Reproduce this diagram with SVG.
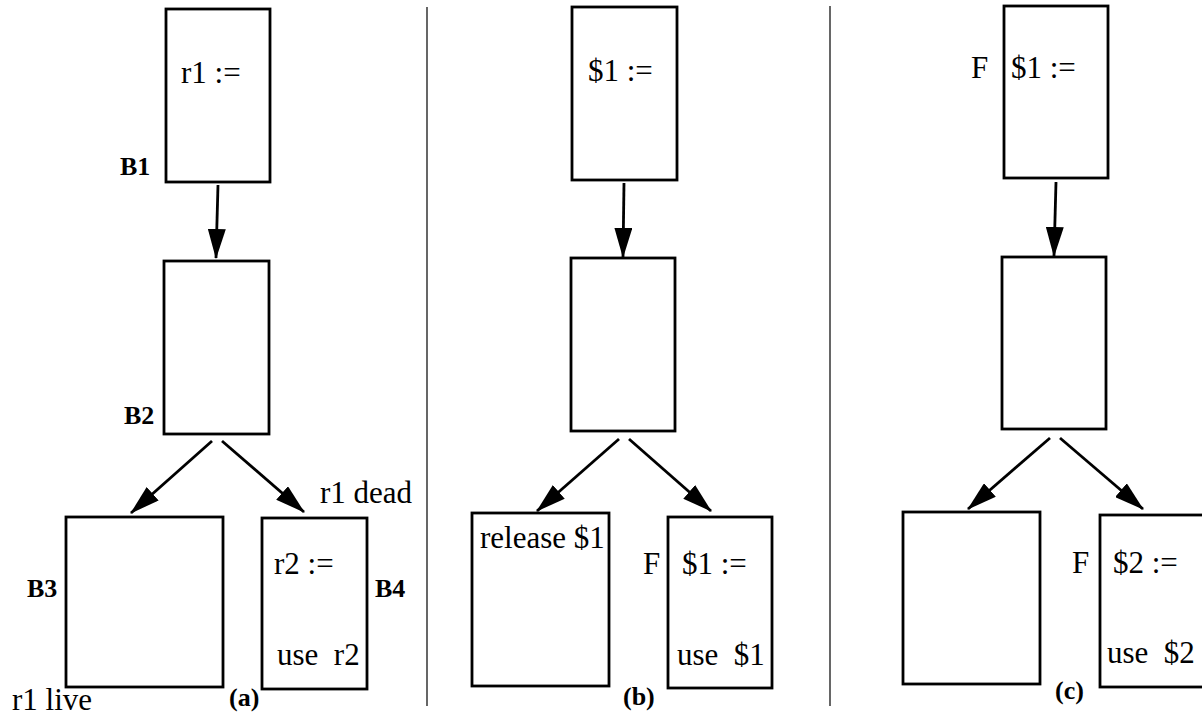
<svg xmlns="http://www.w3.org/2000/svg" width="1202" height="717" viewBox="0 0 1202 717">
<style>
.box{fill:#fff;stroke:#000;stroke-width:2.8}
.t{font-family:"Liberation Serif","Times New Roman",serif;font-size:31px;fill:#000;white-space:pre}
.b{font-family:"Liberation Serif","Times New Roman",serif;font-size:26px;font-weight:bold;fill:#000}
.e{stroke:#000;stroke-width:2.8;fill:none;marker-end:url(#ah)}
.div{stroke:#000;stroke-width:1.2}
</style>
<defs>
<marker id="ah" markerUnits="userSpaceOnUse" markerWidth="31" markerHeight="18" refX="29" refY="9" orient="auto" viewBox="0 0 31 18">
<path d="M0,0 L30,9 L0,18 z" fill="#000"/>
</marker>
</defs>
<rect width="1202" height="717" fill="#fff"/>
<g id="dividers">
<line class="div" x1="427" y1="7" x2="427" y2="706"/>
<line class="div" x1="830" y1="6" x2="830" y2="706"/>
</g>
<g id="connectors">
<line class="e" x1="218" y1="185" x2="216" y2="258"/>
<line class="e" x1="212" y1="441" x2="131" y2="513"/>
<line class="e" x1="222" y1="441" x2="304" y2="512"/>
<line class="e" x1="624" y1="183" x2="623" y2="257"/>
<line class="e" x1="619" y1="439" x2="537" y2="511"/>
<line class="e" x1="629" y1="439" x2="711" y2="511"/>
<line class="e" x1="1056" y1="182" x2="1054" y2="256"/>
<line class="e" x1="1050" y1="438" x2="968" y2="509"/>
<line class="e" x1="1060" y1="438" x2="1143" y2="509"/>
</g>
<g id="a-B1"><rect class="box" x="166" y="9" width="104" height="173"/><text class="t" x="181" y="83">r1 :=</text><text class="b" x="120" y="175">B1</text></g>
<g id="a-B2"><rect class="box" x="164" y="261" width="105" height="173"/><text class="b" x="124" y="424">B2</text></g>
<g id="a-B3"><rect class="box" x="66" y="517" width="157" height="170"/><text class="b" x="27" y="597">B3</text><text class="t" x="12" y="710">r1 live</text></g>
<g id="a-B4"><rect class="box" x="262" y="518" width="105" height="171"/><text class="t" x="274" y="574">r2 :=</text><text class="t" x="277" y="665">use  r2</text><text class="b" x="375" y="597">B4</text><text class="t" x="320" y="503">r1 dead</text></g>
<g id="a-label"><text class="b" x="229" y="706">(a)</text></g>
<g id="b-B1"><rect class="box" x="572" y="7" width="105" height="173"/><text class="t" x="588" y="81">$1 :=</text></g>
<g id="b-B2"><rect class="box" x="571" y="258" width="104" height="173"/></g>
<g id="b-B3"><rect class="box" x="472" y="513" width="137" height="173"/><text class="t" x="480" y="548">release $1</text></g>
<g id="b-B4"><rect class="box" x="668" y="517" width="104" height="171"/><text class="t" x="643" y="574">F</text><text class="t" x="682" y="574">$1 :=</text><text class="t" x="677" y="665">use  $1</text></g>
<g id="b-label"><text class="b" x="623" y="705">(b)</text></g>
<g id="c-B1"><rect class="box" x="1004" y="6" width="104" height="172"/><text class="t" x="971" y="78">F</text><text class="t" x="1011" y="78">$1 :=</text></g>
<g id="c-B2"><rect class="box" x="1002" y="257" width="104" height="172"/></g>
<g id="c-B3"><rect class="box" x="903" y="512" width="137" height="172"/></g>
<g id="c-B4"><rect class="box" x="1100" y="515" width="104" height="172"/><text class="t" x="1072" y="573">F</text><text class="t" x="1113" y="573">$2 :=</text><text class="t" x="1107" y="663">use  $2</text></g>
<g id="c-label"><text class="b" x="1055" y="699">(c)</text></g>
</svg>
